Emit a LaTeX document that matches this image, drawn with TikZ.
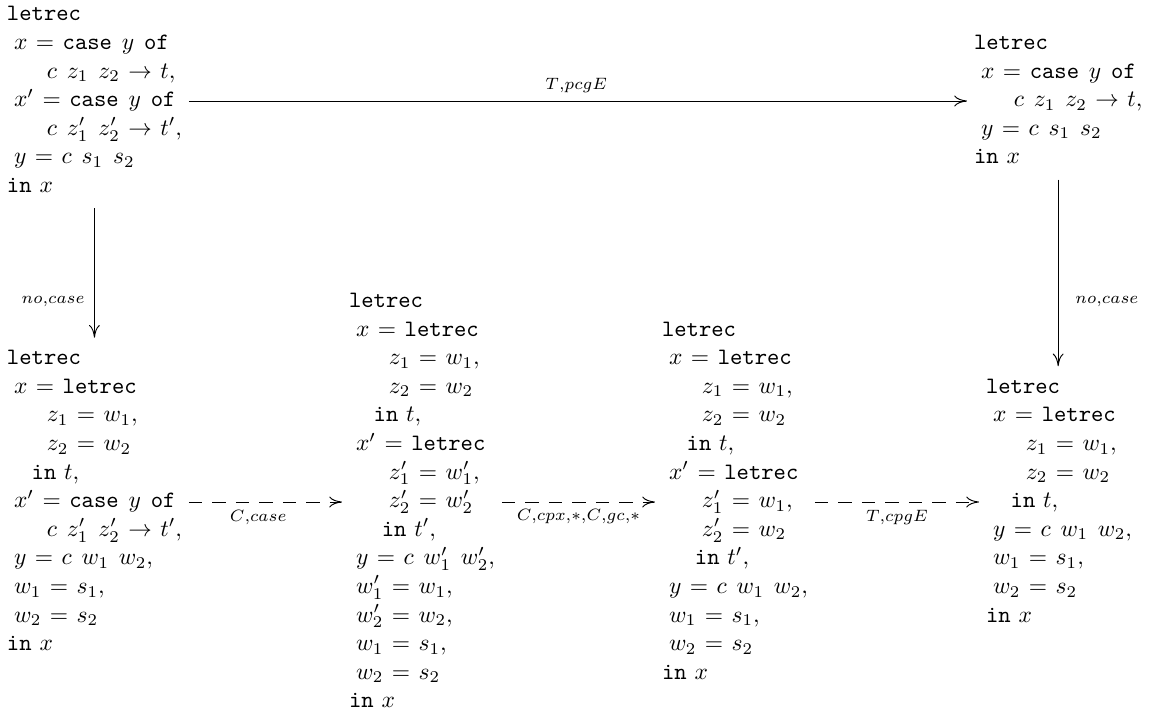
\documentclass[tikz,border=0pt]{standalone}
\usetikzlibrary{arrows.meta}
\renewcommand{\arraystretch}{1.014}
\thickmuskip=6.5mu plus 2mu minus 1mu
\newcommand{\tsp}{\hspace{4.2pt}}
\newcommand{\indA}{\hspace{3pt}}
\newcommand{\indB}{\hspace{17pt}}
\newcommand{\indC}{\hspace{10.5pt}}
\newcommand{\indD}{\hspace{14pt}}
\begin{document}
\begin{tikzpicture}[x=0.4255pt,y=-0.4255pt,
  box/.style={anchor=west,inner sep=0pt,outer sep=0pt},
  arr/.style={-{Computer Modern Rightarrow[length=5.4pt,width=4.6pt]}, line width=0.4pt, shorten <=3pt, shorten >=3pt},
  darr/.style={arr, dash pattern=on 5.6pt off 4.4pt},
  lab/.style={font=\scriptsize, inner sep=1pt}]
\useasboundingbox (0,0) rectangle (1150,720);

\node[box] (TL) at (7,101) {\begin{tabular}{@{}l@{}}
\texttt{letrec}\\
\indA$x = \texttt{case}\tsp y\tsp \texttt{of}$\\
\indB$c\tsp z_1\tsp z_2 \to t,$\\
\indA$x' = \texttt{case}\tsp y\tsp \texttt{of}$\\
\indB$c\tsp z'_1\tsp z'_2 \to t',$\\
\indA$y = c\tsp s_1\tsp s_2$\\
$\texttt{in}\ x$
\end{tabular}};

\node[box] (TR) at (974,101) {\begin{tabular}{@{}l@{}}
\texttt{letrec}\\
\indA$x = \texttt{case}\tsp y\tsp \texttt{of}$\\
\indB$c\tsp z_1\tsp z_2 \to t,$\\
\indA$y = c\tsp s_1\tsp s_2$\\
$\texttt{in}\ x$
\end{tabular}};

\node[box] (B1) at (7,502) {\begin{tabular}{@{}l@{}}
\texttt{letrec}\\
\indA$x = \texttt{letrec}$\\
\indB$z_1 = w_1,$\\
\indB$z_2 = w_2$\\
\indC$\texttt{in}\ t,$\\
\indA$x' = \texttt{case}\tsp y\tsp \texttt{of}$\\
\indB$c\tsp z'_1\tsp z'_2 \to t',$\\
\indA$y = c\tsp w_1\tsp w_2,$\\
\indA$w_1 = s_1,$\\
\indA$w_2 = s_2$\\
$\texttt{in}\ x$
\end{tabular}};

\node[box] (B2) at (349,502) {\begin{tabular}{@{}l@{}}
\texttt{letrec}\\
\indA$x = \texttt{letrec}$\\
\indB$z_1 = w_1,$\\
\indB$z_2 = w_2$\\
\indC$\texttt{in}\ t,$\\
\indA$x' = \texttt{letrec}$\\
\indB$z'_1 = w'_1,$\\
\indB$z'_2 = w'_2$\\
\indD$\texttt{in}\ t',$\\
\indA$y = c\tsp w'_1\tsp w'_2,$\\
\indA$w'_1 = w_1,$\\
\indA$w'_2 = w_2,$\\
\indA$w_1 = s_1,$\\
\indA$w_2 = s_2$\\
$\texttt{in}\ x$
\end{tabular}};

\node[box] (B3) at (662,502) {\begin{tabular}{@{}l@{}}
\texttt{letrec}\\
\indA$x = \texttt{letrec}$\\
\indB$z_1 = w_1,$\\
\indB$z_2 = w_2$\\
\indC$\texttt{in}\ t,$\\
\indA$x' = \texttt{letrec}$\\
\indB$z'_1 = w_1,$\\
\indB$z'_2 = w_2$\\
\indD$\texttt{in}\ t',$\\
\indA$y = c\tsp w_1\tsp w_2,$\\
\indA$w_1 = s_1,$\\
\indA$w_2 = s_2$\\
$\texttt{in}\ x$
\end{tabular}};

\node[box] (B4) at (986,502) {\begin{tabular}{@{}l@{}}
\texttt{letrec}\\
\indA$x = \texttt{letrec}$\\
\indB$z_1 = w_1,$\\
\indB$z_2 = w_2$\\
\indC$\texttt{in}\ t,$\\
\indA$y = c\tsp w_1\tsp w_2,$\\
\indA$w_1 = s_1,$\\
\indA$w_2 = s_2$\\
$\texttt{in}\ x$
\end{tabular}};

\draw[arr] (TL.east) -- (TR.west);
\path (TL.center) -- (TR.center) node[lab, midway, above=2.3pt] {$T{,}pcgE$};

\draw[arr] (TL.south) -- (TL.south |- B1.north);
\path (TL.center) -- (B1.center) node[lab, midway, left=3pt] {$no{,}case$};

\draw[arr] (TR.south) -- (TR.south |- B4.north);
\path (TR.center) -- (B4.center) node[lab, midway, right=6pt] {$no{,}case$};

\draw[darr] (B1.east) -- (B2.west);
\path (B1.center) -- (B2.center) node[lab, midway, below=2.3pt] {$C{,}case$};

\draw[darr] (B2.east) -- (B3.west);
\path (B2.center) -- (B3.center) node[lab, midway, below=1.8pt] {$C{,}cpx{,}{*}{,}C{,}gc{,}{*}$};

\draw[darr] (B3.east) -- (B4.west);
\path (B3.center) -- (B4.center) node[lab, midway, below=2.3pt] {$T{,}cpgE$};
\end{tikzpicture}
\end{document}
